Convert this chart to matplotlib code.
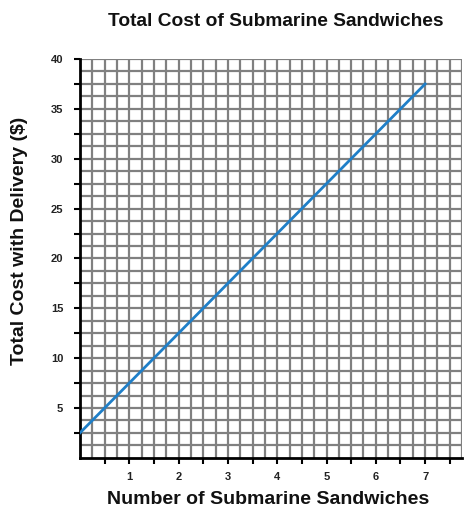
import matplotlib.pyplot as plt
import numpy as np

# data
sandwiches = [0, 7]
total_cost = [2.5, 37.5]
x_ticks = [1, 2, 3, 4, 5, 6, 7]
y_ticks = [5, 10, 15, 20, 25, 30, 35, 40]

plt.rcParams['font.family'] = ['Liberation Sans', 'DejaVu Sans']

fig = plt.figure(figsize=(4.73, 5.11), dpi=100)
ax = fig.add_axes([0.169, 0.104, 0.808, 0.7805])

# grid
for gx in np.arange(0.25, 7.76, 0.25):
    ax.axvline(gx, color='#808080', lw=1.6, zorder=1)
for gy in np.arange(1.25, 40.01, 1.25):
    ax.axhline(gy, color='#808080', lw=1.6, zorder=1)

ax.plot(sandwiches, total_cost, color='#1f7fc8', lw=2, zorder=3)

ax.set_xlim(0, 7.75)
ax.set_ylim(0, 40)
ax.spines['top'].set_visible(False)
ax.spines['right'].set_visible(False)
ax.spines['left'].set_linewidth(2)
ax.spines['bottom'].set_linewidth(2)

ax.set_xticks(x_ticks)
ax.set_xticks(np.arange(0.5, 7.6, 0.5), minor=True)
ax.set_yticks(y_ticks)
ax.set_yticks(np.arange(2.5, 40, 2.5), minor=True)
ax.tick_params(which='both', direction='out', length=4, width=1.5, color='black')
ax.tick_params(axis='x', labelsize=8, pad=6)
ax.tick_params(axis='y', labelsize=8, pad=8)
for lab in ax.get_xticklabels() + ax.get_yticklabels():
    lab.set_fontweight('bold')
    lab.set_color('#222222')

fig.text(0.584, 0.957, 'Total Cost of Submarine Sandwiches', ha='center', va='center',
         fontsize=13.8, fontweight='bold', color='#111111')
fig.text(0.567, 0.022, 'Number of Submarine Sandwiches', ha='center', va='center',
         fontsize=14, fontweight='bold', color='#111111')
fig.text(0.042, 0.528, 'Total Cost with Delivery ($)', ha='center', va='center',
         rotation=90, fontsize=14, fontweight='bold', color='#111111')

fig.savefig('out.png', dpi=100)
